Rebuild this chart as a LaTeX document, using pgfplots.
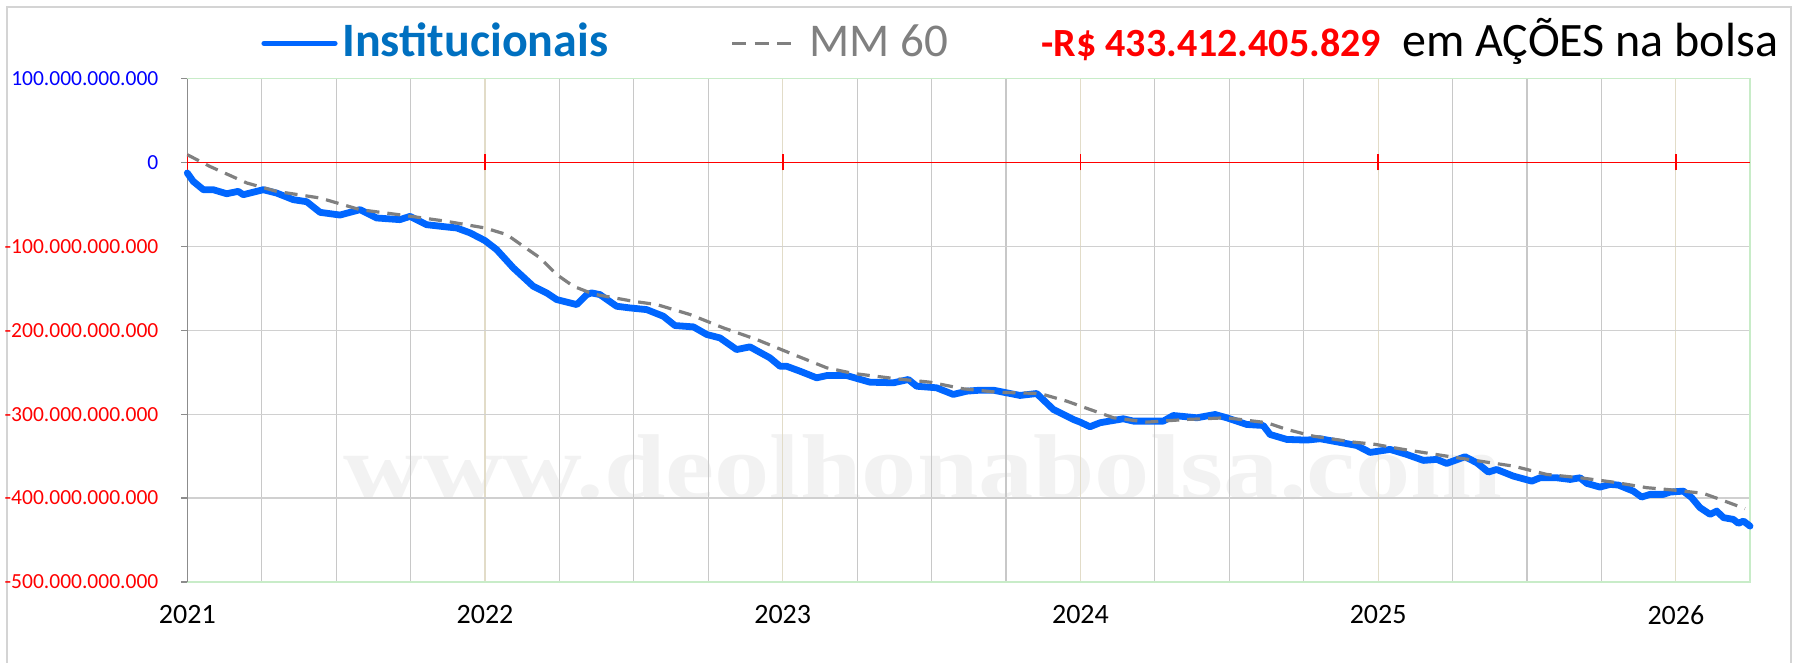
\documentclass[border=0pt]{standalone}
\usepackage{fontspec}
\setmainfont{Carlito}
\newfontfamily\wmfont{Liberation Serif}
\usepackage{pgfplots}
\usepackage{pgfplotstable}
\pgfplotsset{compat=1.18}
\definecolor{lineblue}{RGB}{0,102,255}
\definecolor{instblue}{RGB}{0,112,192}
\definecolor{mmgray}{RGB}{128,128,128}
\definecolor{tickblue}{RGB}{0,0,255}
\definecolor{tickred}{RGB}{255,0,0}
\definecolor{yeargrid}{RGB}{226,220,200}
\definecolor{qgrid}{RGB}{200,200,200}
\definecolor{hgrid}{RGB}{208,208,208}
\definecolor{greenb}{RGB}{200,236,200}
\definecolor{axisgray}{RGB}{140,140,140}
\definecolor{bordergray}{RGB}{212,212,212}
\definecolor{wmgray}{RGB}{242,242,242}

% x = years since 1 Jan 2021, y = billions of R$
\pgfplotstableread{
x y
0.000 -12.6
0.020 -22.6
0.054 -32.5
0.087 -32.5
0.132 -37.3
0.171 -34.5
0.188 -38.5
0.233 -34.5
0.255 -32.5
0.300 -36.5
0.356 -44.4
0.401 -46.8
0.446 -59.5
0.513 -62.7
0.580 -56.3
0.636 -66.2
0.714 -68.2
0.748 -64.3
0.804 -74.2
0.871 -76.9
0.905 -78.1
0.950 -84.0
1.000 -93.2
1.039 -103.9
1.095 -125.7
1.162 -147.6
1.207 -155.5
1.241 -163.5
1.308 -169.4
1.342 -157.5
1.358 -155.5
1.386 -157.5
1.442 -171.4
1.487 -173.4
1.543 -175.4
1.599 -183.3
1.638 -194.4
1.700 -196.0
1.745 -205.1
1.789 -209.1
1.845 -223.0
1.890 -219.8
1.957 -232.9
1.991 -242.9
2.013 -242.9
2.058 -248.8
2.114 -256.7
2.148 -254.0
2.215 -254.0
2.293 -261.9
2.372 -262.6
2.422 -258.7
2.450 -266.7
2.517 -268.6
2.573 -276.5
2.618 -272.6
2.663 -271.4
2.707 -271.4
2.797 -277.7
2.853 -275.4
2.909 -294.4
2.976 -306.3
2.999 -309.5
3.032 -315.0
3.066 -310.2
3.144 -305.5
3.178 -308.3
3.278 -308.3
3.312 -301.6
3.391 -304.3
3.452 -300.4
3.491 -304.3
3.559 -312.3
3.614 -313.5
3.637 -324.2
3.693 -330.1
3.760 -330.9
3.805 -329.3
3.928 -337.3
3.973 -345.6
4.040 -342.0
4.096 -348.0
4.152 -355.1
4.197 -353.9
4.230 -358.7
4.292 -350.7
4.331 -357.9
4.370 -369.0
4.398 -365.9
4.454 -373.8
4.516 -379.8
4.544 -375.8
4.600 -375.8
4.645 -377.8
4.678 -375.8
4.701 -382.5
4.745 -386.9
4.779 -383.7
4.807 -384.5
4.857 -391.7
4.885 -398.8
4.913 -395.6
4.958 -395.6
4.980 -392.9
5.025 -391.7
5.053 -399.5
5.081 -411.4
5.115 -419.4
5.137 -415.5
5.160 -423.3
5.193 -425.4
5.210 -430.1
5.227 -427.4
5.249 -433.4
}\instdata

\pgfplotstableread{
x y
0.000 9.2
0.076 -4.8
0.200 -24.5
0.300 -34.5
0.446 -42.4
0.580 -56.3
0.737 -63.5
0.871 -70.2
1.000 -78.1
1.073 -86.0
1.129 -100.0
1.185 -113.8
1.241 -133.7
1.297 -147.6
1.364 -156.9
1.498 -165.5
1.577 -169.4
1.689 -181.3
1.800 -197.1
1.913 -211.1
2.036 -228.9
2.148 -244.8
2.237 -251.5
2.383 -257.9
2.495 -261.9
2.607 -269.8
2.719 -273.8
2.864 -275.4
2.954 -284.5
3.032 -294.4
3.111 -304.3
3.223 -309.5
3.357 -306.3
3.491 -304.3
3.626 -310.2
3.693 -318.2
3.782 -326.2
3.917 -333.3
3.990 -336.0
4.085 -342.0
4.230 -350.0
4.342 -356.0
4.454 -361.9
4.566 -371.8
4.678 -375.8
4.790 -381.0
4.902 -387.6
5.003 -390.8
5.092 -394.4
5.148 -401.5
5.232 -412.6
}\mmdata

\begin{document}
\begin{tikzpicture}
\useasboundingbox (0,0) rectangle (899pt,331.5pt);
\draw[color=bordergray, line width=0.75pt] (3.5pt,0) -- (3.5pt,328pt) -- (895.5pt,328pt) -- (895.5pt,0);
\node[anchor=base west, inner sep=0pt, text=wmgray, font=\wmfont\bfseries\fontsize{46pt}{46pt}\selectfont, xscale=1.2] at (171.5pt,82pt) {www.deolhonabolsa.com};
\begin{axis}[
  at={(93.65pt,40.5pt)}, anchor=south west,
  width=781.35pt, height=251.75pt, scale only axis,
  xmin=0, xmax=5.249, ymin=-500, ymax=100,
  clip=false,
  axis line style={draw=none},
  xtick={0,1,2,3,4,5},
  xticklabels={2021,2022,2023,2024,2025,2026},
  minor x tick num=3,
  ytick={-500,-400,-300,-200,-100,0,100},
  yticklabels={\textcolor{tickred}{-500.000.000.000},\textcolor{tickred}{-400.000.000.000},\textcolor{tickred}{-300.000.000.000},\textcolor{tickred}{-200.000.000.000},\textcolor{tickred}{-100.000.000.000},\textcolor{tickblue}{0},\textcolor{tickblue}{100.000.000.000}},
  xmajorgrids, xminorgrids, ymajorgrids,
  major x grid style={color=yeargrid, line width=0.6pt},
  minor x grid style={color=qgrid, line width=0.6pt},
  major y grid style={color=hgrid, line width=0.6pt},
  tick pos=left, tick align=outside,
  major tick length=3pt, minor tick length=0pt,
  xtick style={draw=none},
  ytick style={draw=axisgray, line width=0.6pt},
  xticklabel style={font=\fontsize{14pt}{14pt}\selectfont, anchor=center, inner sep=0pt, yshift=-13.5pt},
  yticklabel style={font=\fontsize{10.75pt}{10.75pt}\selectfont, anchor=east, inner sep=0pt, xshift=-11.3pt},
]
\draw[color=greenb, line width=0.8pt] (rel axis cs:0,1) -- (rel axis cs:1,1) -- (rel axis cs:1,0) -- (rel axis cs:0,0);
\draw[color=axisgray, line width=0.75pt] (rel axis cs:0,0) -- (rel axis cs:0,1);
\draw[color=tickred, line width=0.8pt] (axis cs:0,0) -- (axis cs:5.249,0);
\draw[color=tickred, line width=0.8pt] (axis cs:0,-9.5) -- (axis cs:0,9.5);
\draw[color=tickred, line width=0.8pt] (axis cs:1,-9.5) -- (axis cs:1,9.5);
\draw[color=tickred, line width=0.8pt] (axis cs:2,-9.5) -- (axis cs:2,9.5);
\draw[color=tickred, line width=0.8pt] (axis cs:3,-9.5) -- (axis cs:3,9.5);
\draw[color=tickred, line width=0.8pt] (axis cs:4,-9.5) -- (axis cs:4,9.5);
\draw[color=tickred, line width=0.8pt] (axis cs:5,-9.5) -- (axis cs:5,9.5);
\addplot[color=lineblue, line width=3.4pt, line join=round, line cap=round] table[x=x,y=y] {\instdata};
\addplot[color=mmgray, line width=1.6pt, dash pattern=on 6.5pt off 4pt] table[x=x,y=y] {\mmdata};
\end{axis}
\draw[lineblue, line width=2.6pt, line cap=round] (132pt,309.8pt) -- (167.5pt,309.8pt);
\node[anchor=base west, inner sep=0pt, text=instblue, font=\bfseries\fontsize{24pt}{24pt}\selectfont] at (171pt,303pt) {Institucionais};
\draw[mmgray, line width=1.6pt, dash pattern=on 7pt off 4.3pt] (366pt,309.8pt) -- (397pt,309.8pt);
\node[anchor=base west, inner sep=0pt, text=mmgray, font=\fontsize{23.5pt}{23.5pt}\selectfont] at (404.5pt,303pt) {MM 60};
\node[anchor=base west, inner sep=0pt, text=tickred, font=\bfseries\fontsize{20pt}{20pt}\selectfont] at (520.5pt,303pt) {-R\$ 433.412.405.829};
\node[anchor=base west, inner sep=0pt, text=black, font=\fontsize{24pt}{24pt}\selectfont] at (701pt,303pt) {em AÇÕES na bolsa};
\end{tikzpicture}
\end{document}
